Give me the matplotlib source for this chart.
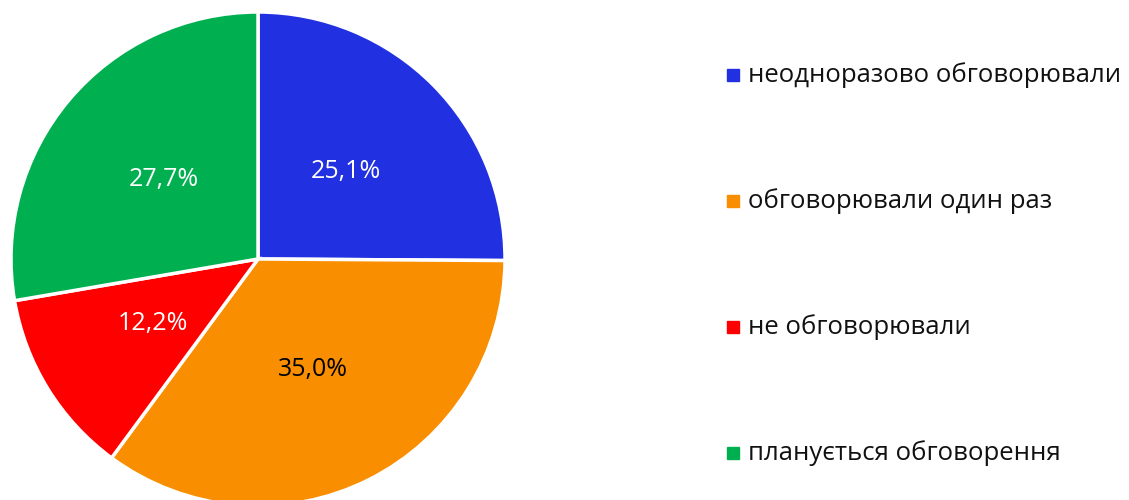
import matplotlib.pyplot as plt

labels = ['неодноразово обговорювали', 'обговорювали один раз', 'не обговорювали', 'планується обговорення']
values = [25.1, 35.0, 12.2, 27.7]
colors = ['#2130E0', '#F98E00', '#FF0000', '#00B050']
pct_colors = ['white', 'black', 'white', 'white']

plt.rcParams['font.family'] = ['Open Sans', 'DejaVu Sans']

fig = plt.figure(figsize=(11.29, 5), dpi=100)
ax = fig.add_axes([11 / 1129, -6 / 500, 494 / 1129, 494 / 500])

wedges, texts, autotexts = ax.pie(
    values, colors=colors, startangle=90, counterclock=False,
    autopct=lambda p: f'{p:.1f}%'.replace('.', ','), pctdistance=0.5,
    wedgeprops=dict(edgecolor='white', linewidth=2.5),
    textprops=dict(fontsize=18))
for t, c in zip(autotexts, pct_colors):
    t.set_color(c)
ax.set_xlim(-1, 1)
ax.set_ylim(-1, 1)
ax.set_aspect('equal')

# легенда справа
for i, (lab, col) in enumerate(zip(labels, colors)):
    y = 1 - 75 / 500 - i * 126 / 500
    fig.patches.append(plt.Rectangle((727 / 1129, y - 6 / 500), 12 / 1129, 12 / 500,
                                     transform=fig.transFigure, color=col, figure=fig))
    fig.text(748 / 1129, y, lab, fontsize=18.5, va='center', ha='left', color='#111111')

plt.savefig('out.png', dpi=100)
